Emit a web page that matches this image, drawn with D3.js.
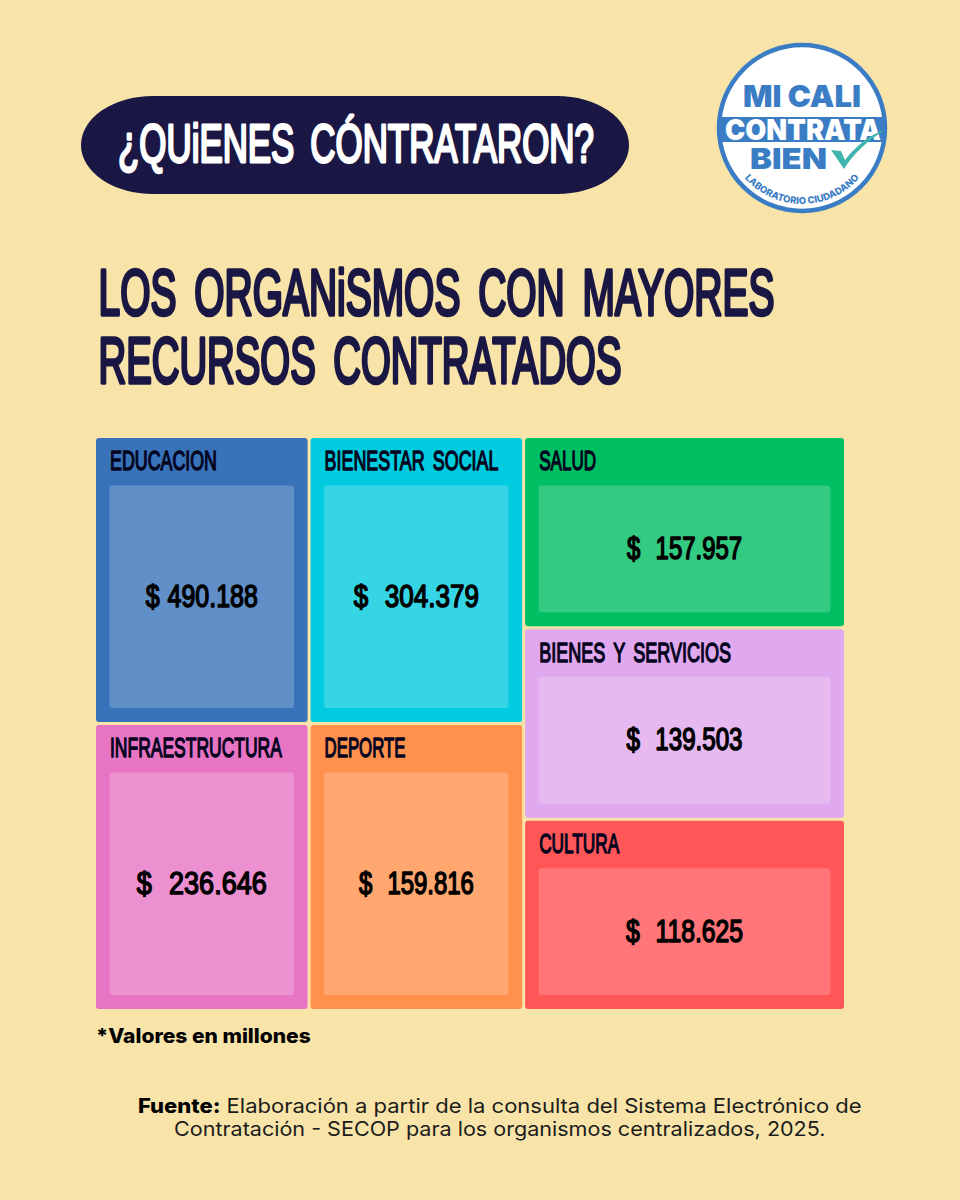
<!DOCTYPE html>
<html>
<head>
<meta charset="utf-8">
<script src="https://cdn.jsdelivr.net/npm/d3@7"></script>
<style>
  html, body { margin: 0; padding: 0; background: #f8e4a9; }
  svg { display: block; }
  .condensed { font-family: "Liberation Sans Narrow", "Liberation Sans", sans-serif; font-weight: 400; stroke-linejoin: round; word-spacing: 0.18em; }
  .condensed { vector-effect: non-scaling-stroke; }
  .amount { word-spacing: 0.04em; }
  .note { font-family: Inter, "Open Sans", sans-serif; }
  .logo { font-family: Inter, "Liberation Sans", sans-serif; font-weight: 900; }
</style>
</head>
<body>
<script>
  // data (millones de pesos)
  var categories = ['EDUCACION', 'BIENESTAR SOCIAL', 'INFRAESTRUCTURA', 'DEPORTE', 'SALUD', 'BIENES Y SERVICIOS', 'CULTURA'];
  var values = [490188, 304379, 236646, 159816, 157957, 139503, 118625];
  var outerColors = ['#3873ba', '#00cbdf', '#e875c3', '#ff914d', '#00bf63', '#e0a8ee', '#ff5757'];
  var innerColors = ['#618fc8', '#35d5e5', '#ed90cf', '#ffa76f', '#33cb82', '#e6b9f1', '#ff7578'];

  // vars
  var _width = 960,
    _height = 1200,
    _navy = '#1b1744',
    _blue = '#3b7dc4',
    _gap = 3;

  // grid of the chart: 7 units wide, 6 units high
  var _cols = [0, 2, 4, 7];
  var _cells = [
    { c: 0, r0: 0, r1: 3 }, { c: 1, r0: 0, r1: 3 },
    { c: 0, r0: 3, r1: 6 }, { c: 1, r0: 3, r1: 6 },
    { c: 2, r0: 0, r1: 2 }, { c: 2, r0: 2, r1: 4 }, { c: 2, r0: 4, r1: 6 }
  ];
  var _labelWidth = [107, 174, 172, 81, 57, 192, 80];
  var _valueWidth = [112, 125, 130, 115, 115, 116, 117];

  var x = d3.scaleLinear().domain([0, 7]).range([96, 844 + _gap]);
  var y = d3.scaleLinear().domain([0, 6]).range([438, 1009 + _gap]);

  var formatValue = function (v) {
    return d3.format(',')(v).replace(/,/g, '.');
  };

  var svg = d3.select('body').append('svg')
    .attr('width', _width)
    .attr('height', _height)
    .attr('viewBox', '0 0 ' + _width + ' ' + _height);

  svg.append('rect').attr('width', _width).attr('height', _height).attr('fill', '#f8e4a9');

  // squeezes each text to the width it has in the picture, around its own x
  function fit(sel, width) {
    sel.each(function (d, i) {
      var w = typeof width === 'function' ? width(d, i) : width;
      var node = d3.select(this);
      var px = +node.attr('x');
      var k = w / this.getComputedTextLength();
      node.attr('transform', 'translate(' + px + ',0) scale(' + k + ',1) translate(' + (-px) + ',0)');
    });
  }

  function drawHeader() {
    svg.append('rect')
      .attr('x', 81).attr('y', 96).attr('width', 548).attr('height', 98)
      .attr('rx', 72).attr('ry', 49)
      .attr('fill', _navy);

    svg.append('text').attr('class', 'condensed')
      .attr('x', 118).attr('y', 161.7)
      .attr('font-size', 53).attr('fill', '#fff').attr('stroke', '#fff').attr('stroke-width', 2.4)
      .text('¿QUiENES CÓNTRATARON?')
      .call(fit, 476);

    var title = ['LOS ORGANiSMOS CON MAYORES', 'RECURSOS CONTRATADOS'];
    var titleWidth = [676, 523];
    var titleBase = [315.5, 383.5];
    svg.selectAll('.title').data(title).enter().append('text')
      .attr('class', 'title condensed')
      .attr('x', 98.5)
      .attr('y', function (d, i) { return titleBase[i]; })
      .attr('font-size', 64).attr('fill', _navy).attr('stroke', _navy).attr('stroke-width', 3)
      .text(function (d) { return d; })
      .call(fit, function (d, i) { return titleWidth[i]; });
  }

  function drawCells() {
    var data = categories.map(function (name, i) {
      var cell = _cells[i];
      return {
        name: name,
        value: values[i],
        outer: outerColors[i],
        inner: innerColors[i],
        labelWidth: _labelWidth[i],
        valueWidth: _valueWidth[i],
        x0: x(_cols[cell.c]),
        x1: x(_cols[cell.c + 1]) - _gap,
        y0: y(cell.r0),
        y1: y(cell.r1) - _gap
      };
    });

    var g = svg.selectAll('.cell').data(data).enter().append('g').attr('class', 'cell');

    g.append('rect')
      .attr('x', function (d) { return d.x0; })
      .attr('y', function (d) { return d.y0; })
      .attr('width', function (d) { return d.x1 - d.x0; })
      .attr('height', function (d) { return d.y1 - d.y0; })
      .attr('rx', 3)
      .attr('fill', function (d) { return d.outer; });

    g.append('rect')
      .attr('x', function (d) { return d.x0 + 13.5; })
      .attr('y', function (d) { return d.y0 + 47.5; })
      .attr('width', function (d) { return d.x1 - d.x0 - 27; })
      .attr('height', function (d) { return d.y1 - d.y0 - 61.5; })
      .attr('rx', 3)
      .attr('fill', function (d) { return d.inner; });

    g.append('text').attr('class', 'condensed')
      .attr('x', function (d) { return d.x0 + 14; })
      .attr('y', function (d) { return d.y0 + 32.4; })
      .attr('font-size', 28.5).attr('fill', '#050520').attr('stroke', '#050520').attr('stroke-width', 1.2)
      .text(function (d) { return d.name; })
      .call(fit, function (d) { return d.labelWidth; });

    g.append('text').attr('class', 'condensed amount')
      .attr('x', function (d) { return (d.x0 + d.x1) / 2; })
      .attr('y', function (d) { return d.y0 + 47.5 + (d.y1 - d.y0 - 61.5) / 2 + 10; })
      .attr('text-anchor', 'middle')
      .attr('font-size', 31).attr('fill', '#000').attr('stroke', '#000').attr('stroke-width', 1.4)
      .text(function (d, i) { return (i === 0 ? '$ ' : '$\u00a0\u00a0') + formatValue(d.value); })
      .call(fit, function (d) { return d.valueWidth; });
  }

  function drawLogo() {
    var cx = 802, cy = 128, r = 83;
    var logo = svg.append('g').attr('class', 'logo');

    logo.append('clipPath').attr('id', 'logo-clip')
      .append('circle').attr('cx', cx).attr('cy', cy).attr('r', r);

    logo.append('circle')
      .attr('cx', cx).attr('cy', cy).attr('r', r)
      .attr('fill', '#fff').attr('stroke', _blue).attr('stroke-width', 4.5);

    logo.append('rect')
      .attr('x', cx - r).attr('y', 117).attr('width', r * 2).attr('height', 25)
      .attr('clip-path', 'url(#logo-clip)')
      .attr('fill', _blue);

    logo.append('text').attr('x', 743).attr('y', 107).attr('font-size', 30).attr('fill', _blue)
      .text('MI CALI').call(fit, 118);
    logo.append('text').attr('x', 725).attr('y', 140).attr('font-size', 29).attr('fill', '#fff')
      .text('CONTRATA').call(fit, 156);
    logo.append('text').attr('x', 750).attr('y', 169).attr('font-size', 29).attr('fill', _blue)
      .text('BIEN').call(fit, 77);

    // check mark
    logo.append('path')
      .attr('d', 'M831,150 L841,151 L845,160 C856,146 870,134 885,130 C868,140 853,154 844,169 Z')
      .attr('fill', '#3fb5ad');

    // curved caption, left to right along the bottom of the circle
    var arc = d3.path();
    arc.arc(cx, cy, 76, Math.PI * 0.86, Math.PI * 0.14, true);
    logo.append('path').attr('id', 'logo-arc').attr('d', arc.toString()).attr('fill', 'none');

    logo.append('text')
      .attr('font-size', 9.5).attr('font-weight', 800).attr('fill', _blue)
      .append('textPath')
      .attr('href', '#logo-arc')
      .attr('startOffset', '50%')
      .attr('text-anchor', 'middle')
      .text('LABORATORIO CIUDADANO');
  }

  function drawNotes() {
    svg.append('text').attr('class', 'note')
      .attr('x', 96).attr('y', 1043)
      .attr('font-size', 20).attr('font-weight', 800).attr('fill', '#000')
      .text('*Valores en millones')
      .call(fit, 215);

    var line1 = svg.append('text').attr('class', 'note')
      .attr('x', 138).attr('y', 1113)
      .attr('font-size', 20).attr('fill', '#1c1c1c');
    line1.append('tspan').attr('font-weight', 800).attr('fill', '#000').text('Fuente:');
    line1.append('tspan').text(' Elaboración a partir de la consulta del Sistema Electrónico de');
    fit(line1, 724);

    svg.append('text').attr('class', 'note')
      .attr('x', 174).attr('y', 1136.5)
      .attr('font-size', 20).attr('fill', '#1c1c1c')
      .text('Contratación - SECOP para los organismos centralizados, 2025.')
      .call(fit, 652);
  }

  drawHeader();
  drawCells();
  drawLogo();
  drawNotes();
</script>
</body>
</html>
